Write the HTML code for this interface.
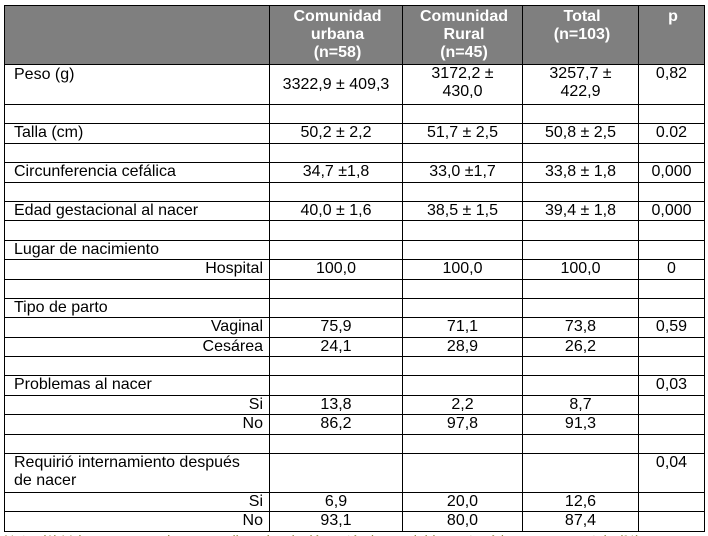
<!DOCTYPE html>
<html><head><meta charset="utf-8"><style>
html,body{margin:0;width:708px;height:536px;background:#fff;overflow:hidden;}
body{position:relative;font-family:"Liberation Sans",Arial,sans-serif;}
table{position:absolute;left:4px;top:5px;border-collapse:collapse;table-layout:fixed;font-size:16px;color:#000;}
td,th{border:1px solid #000;padding:0 6px 0 9px;vertical-align:top;line-height:18px;overflow:hidden;white-space:nowrap}
th{background:#7f7f7f;color:#fff;font-weight:bold;text-align:center;padding-top:2px;font-size:16px;line-height:18px}
td.c{text-align:center;padding:0 4px}
td.r{text-align:right}
tr{height:19.4px}
.noteclip{position:absolute;left:0;top:533px;width:708px;height:3px;overflow:hidden}
.note{position:absolute;left:4px;top:0;font-size:14px;line-height:14px;color:#8a8a3a;white-space:nowrap}
</style></head><body>
<table>
<colgroup><col style="width:265px"><col style="width:133px"><col style="width:120px"><col style="width:116px"><col style="width:66px"></colgroup>
<tr style="height:59px"><th></th><th>Comunidad<br>urbana<br>(n=58)</th><th>Comunidad<br>Rural<br>(n=45)</th><th>Total<br>(n=103)</th><th>p</th></tr>
<tr style="height:40px"><td style="padding-top:1px">Peso (g)</td><td class="c" style="vertical-align:middle">3322,9 ± 409,3</td><td class="c">3172,2 ±<br>430,0</td><td class="c">3257,7 ±<br>422,9</td><td class="c">0,82</td></tr>
<tr><td></td><td></td><td></td><td></td><td></td></tr>
<tr><td>Talla (cm)</td><td class="c">50,2 ± 2,2</td><td class="c">51,7 ± 2,5</td><td class="c">50,8 ± 2,5</td><td class="c">0.02</td></tr>
<tr><td></td><td></td><td></td><td></td><td></td></tr>
<tr><td>Circunferencia cefálica</td><td class="c">34,7 ±1,8</td><td class="c">33,0 ±1,7</td><td class="c">33,8 ± 1,8</td><td class="c">0,000</td></tr>
<tr><td></td><td></td><td></td><td></td><td></td></tr>
<tr><td>Edad gestacional al nacer</td><td class="c">40,0 ± 1,6</td><td class="c">38,5 ± 1,5</td><td class="c">39,4 ± 1,8</td><td class="c">0,000</td></tr>
<tr><td></td><td></td><td></td><td></td><td></td></tr>
<tr><td>Lugar de nacimiento</td><td></td><td></td><td></td><td></td></tr>
<tr><td class="r">Hospital</td><td class="c">100,0</td><td class="c">100,0</td><td class="c">100,0</td><td class="c">0</td></tr>
<tr><td></td><td></td><td></td><td></td><td></td></tr>
<tr><td>Tipo de parto</td><td></td><td></td><td></td><td></td></tr>
<tr><td class="r">Vaginal</td><td class="c">75,9</td><td class="c">71,1</td><td class="c">73,8</td><td class="c">0,59</td></tr>
<tr><td class="r">Cesárea</td><td class="c">24,1</td><td class="c">28,9</td><td class="c">26,2</td><td></td></tr>
<tr><td></td><td></td><td></td><td></td><td></td></tr>
<tr><td>Problemas al nacer</td><td></td><td></td><td></td><td class="c">0,03</td></tr>
<tr><td class="r">Si</td><td class="c">13,8</td><td class="c">2,2</td><td class="c">8,7</td><td></td></tr>
<tr><td class="r">No</td><td class="c">86,2</td><td class="c">97,8</td><td class="c">91,3</td><td></td></tr>
<tr><td></td><td></td><td></td><td></td><td></td></tr>
<tr style="height:39px"><td>Requirió internamiento después<br>de nacer</td><td></td><td></td><td></td><td class="c">0,04</td></tr>
<tr><td class="r">Si</td><td class="c">6,9</td><td class="c">20,0</td><td class="c">12,6</td><td></td></tr>
<tr><td class="r">No</td><td class="c">93,1</td><td class="c">80,0</td><td class="c">87,4</td><td></td></tr>
</table>
<div class="noteclip"><div class="note">Nota: (1) Valores expresados en media ± desviación estándar; variables categóricas en porcentaje (%)</div></div>
</body></html>
